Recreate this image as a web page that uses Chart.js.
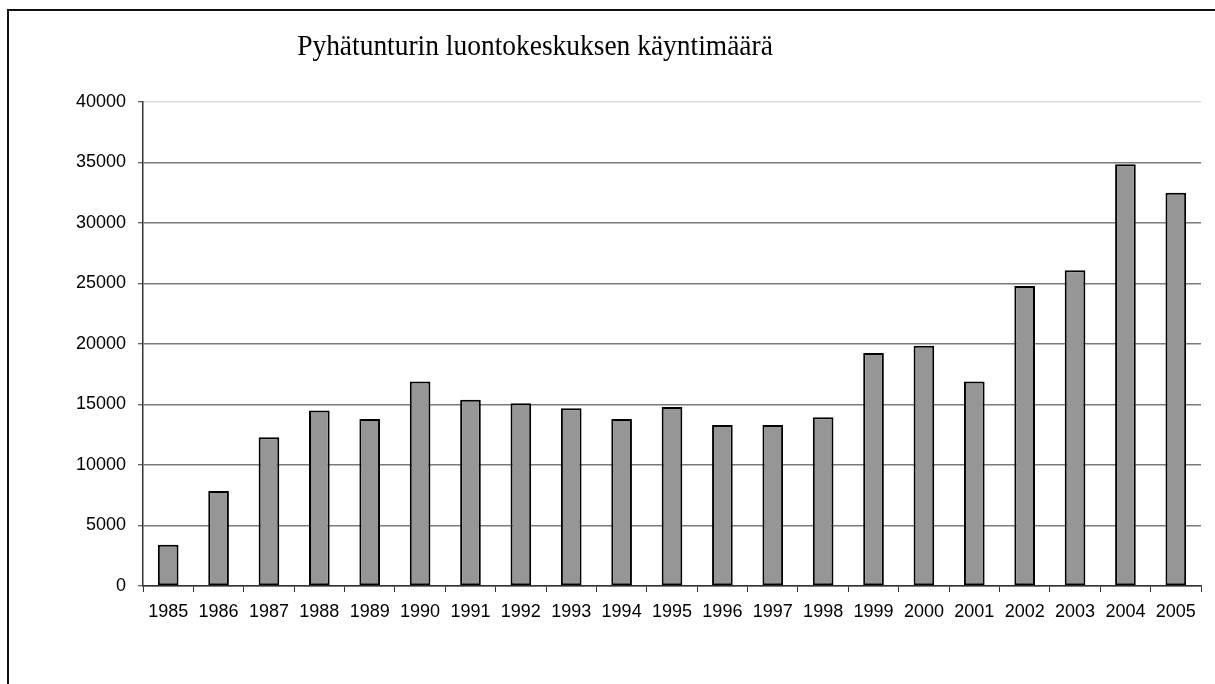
<!DOCTYPE html>
<html>
<head>
<meta charset="utf-8">
<script src="https://cdn.jsdelivr.net/npm/chart.js"></script>
<style>
  html, body { margin: 0; padding: 0; background: #fff; overflow: hidden; }
  #frame { position: absolute; left: 7px; top: 9px; width: 1300px; height: 800px; border: 2px solid #111; }
  #wrap { position: absolute; left: 0; top: 0; width: 1215px; height: 684px; }
</style>
</head>
<body>
<div id="frame"></div>
<div id="wrap"><canvas id="myChart"></canvas></div>
<script>
const vuodet = ['1985', '1986', '1987', '1988', '1989', '1990', '1991', '1992', '1993', '1994', '1995',
  '1996', '1997', '1998', '1999', '2000', '2001', '2002', '2003', '2004', '2005'];
const kaynnit = [3400, 7850, 12300, 14500, 13800, 16900, 15400, 15100, 14700, 13800, 14800,
  13300, 13300, 13950, 19250, 19850, 16900, 24800, 26100, 34850, 32500];
const yTicks = [0, 5000, 10000, 15000, 20000, 25000, 30000, 35000, 40000];
const otsikko = 'Pyhätunturin luontokeskuksen käyntimäärä';

// title sits left of the plot centre, so draw it ourselves
const titlePlugin = {
  id: 'omaOtsikko',
  afterDraw(chart) {
    const c = chart.ctx;
    c.save();
    c.font = '30px "Liberation Serif", "Times New Roman", serif';
    c.fillStyle = '#000';
    c.textAlign = 'center';
    c.textBaseline = 'alphabetic';
    c.translate(535, 55);
    c.scale(0.915, 1);
    c.fillText(otsikko, 0, 0);
    c.restore();
  }
};

const ctx = document.getElementById('myChart');

new Chart(ctx, {
  type: 'bar',
  data: {
    labels: vuodet,
    datasets: [{
      label: 'Käyntimäärä',
      data: kaynnit,
      backgroundColor: '#969696',
      borderColor: '#000',
      borderWidth: 2,
      borderSkipped: false,
      barPercentage: 0.41,
      categoryPercentage: 1
    }]
  },
  options: {
    responsive: true,
    maintainAspectRatio: false,
    animation: false,
    layout: { padding: { top: 102, right: 14, left: 0, bottom: 0 } },
    plugins: {
      legend: { display: false },
      title: { display: false },
      tooltip: { enabled: false }
    },
    scales: {
      x: {
        offset: true,
        grid: {
          display: true,
          offset: true,
          drawOnChartArea: false,
          drawTicks: true,
          tickLength: 6,
          tickColor: '#333',
          tickWidth: 1
        },
        border: { display: true, color: '#333', width: 1.5 },
        ticks: {
          color: '#000',
          padding: 9,
          maxRotation: 0,
          autoSkip: false,
          font: { family: '"Liberation Sans", Arial, sans-serif', size: 18 }
        },
        afterFit(scale) { scale.height = 98; }
      },
      y: {
        min: 0,
        max: 40000,
        afterBuildTicks(scale) { scale.ticks = yTicks.map(v => ({ value: v })); },
        grid: {
          color: (c) => (c.tick && c.tick.value === 40000) ? '#dddddd' : '#7a7a7a',
          lineWidth: 1.5,
          tickLength: 5,
          tickColor: '#333',
          tickWidth: 1
        },
        border: { display: true, color: '#333', width: 1.5 },
        ticks: {
          color: '#000',
          padding: 12,
          callback: (v) => String(v),
          font: { family: '"Liberation Sans", Arial, sans-serif', size: 18 }
        },
        afterFit(scale) { scale.width = 143; }
      }
    }
  },
  plugins: [titlePlugin]
});
</script>
</body>
</html>
